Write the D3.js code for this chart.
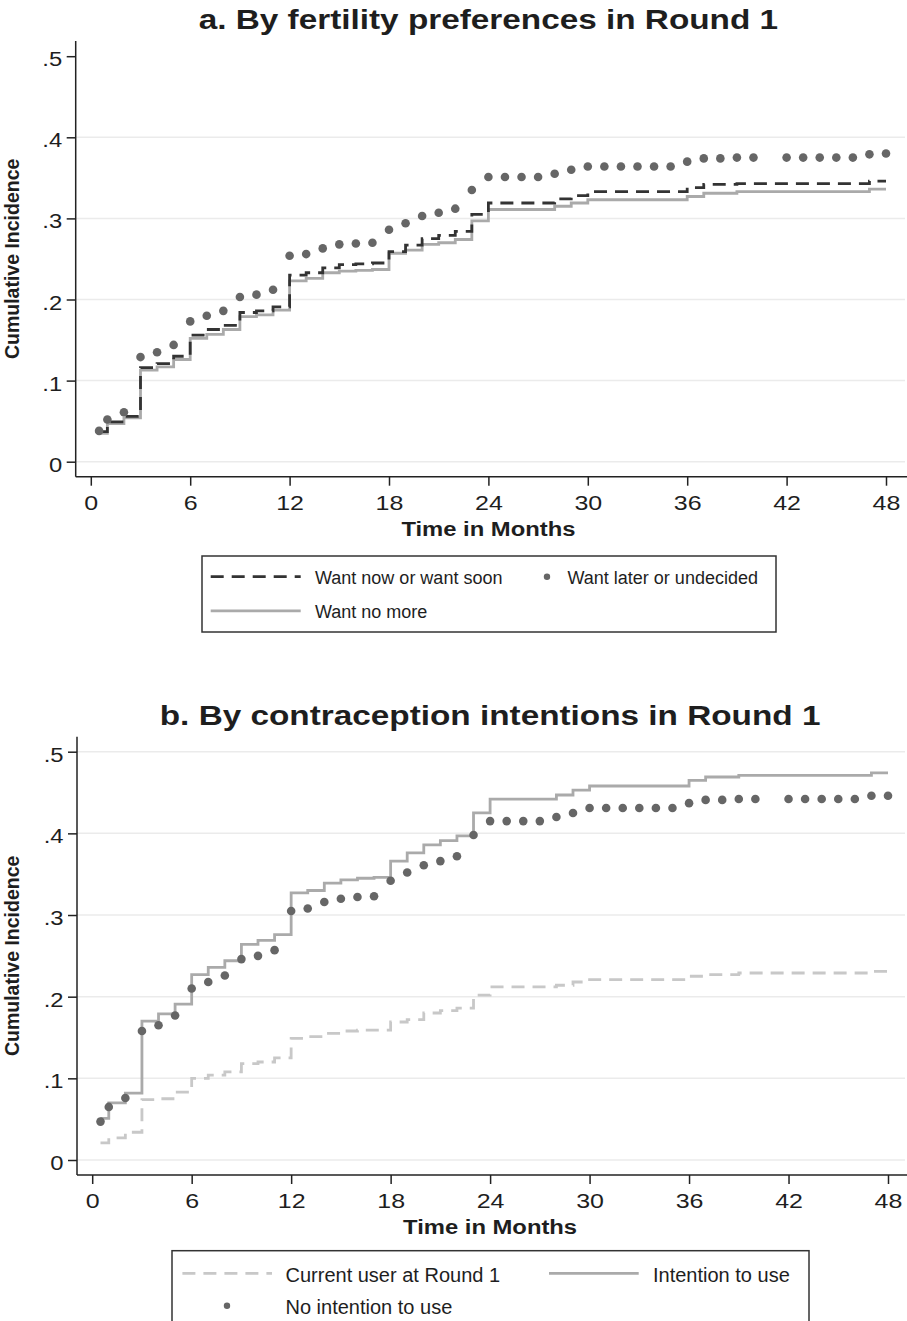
<!DOCTYPE html>
<html>
<head>
<meta charset="utf-8">
<script src="https://cdn.jsdelivr.net/npm/d3@7"></script>
<style>
  body { margin: 0; background: #fff; }
  text { font-family: "Liberation Sans", Arial, Helvetica, sans-serif; fill: #1e1e1e; }
</style>
</head>
<body>
<svg id="chart" width="907" height="1321"></svg>
<script>
// months at which the cumulative incidence is reported
var months = [0.5, 1, 2, 3, 4, 5, 6, 7, 8, 9,
  10, 11, 12, 13, 14, 15, 16, 17, 18, 19,
  20, 21, 22, 23, 24, 25, 26, 27, 28, 29,
  30, 31, 32, 33, 34, 35, 36, 37, 38, 39,
  40, 41, 42, 43, 44, 45, 46, 47, 48];

var xTicks = [0, 6, 12, 18, 24, 30, 36, 42, 48];
var yTicks = [0, .1, .2, .3, .4, .5];
var yTickLabels = ["0", ".1", ".2", ".3", ".4", ".5"];

// panel a - fertility preferences
var wantSoon = [.037, .049, .056, .116, .121, .130, .156, .163, .168, .184,
  .186, .191, .230, .233, .239, .243, .244, .245, .259, .267,
  .275, .279, .284, .305, .319, .319, .319, .319, .324, .328,
  .333, .333, .333, .333, .333, .333, .338, .342, .342, .343,
  .343, .343, .343, .343, .343, .343, .343, .346, .346];
var wantNoMore = [.035, .047, .054, .113, .117, .126, .152, .157, .163, .179,
  .181, .187, .223, .226, .233, .235, .236, .237, .257, .261,
  .268, .270, .274, .297, .311, .311, .311, .311, .315, .319,
  .323, .323, .323, .323, .323, .323, .327, .331, .331, .333,
  .333, .333, .333, .333, .333, .333, .333, .336, .336];
var wantLater = [.038, .052, .061, .129, .135, .144, .173, .180, .186, .203,
  .206, .212, .254, .256, .263, .268, .269, .270, .286, .294,
  .303, .307, .312, .335, .351, .351, .351, .351, .355, .360,
  .364, .364, .364, .364, .364, .364, .370, .374, .374, .375,
  .375, null, .375, .375, .375, .375, .375, .379, .380];

// panel b - contraception intentions
var currentUser = [.021, .027, .034, .074, .075, .083, .100, .104, .108, .118,
  .120, .125, .149, .151, .155, .158, .159, .159, .169, .172,
  .180, .183, .186, .202, .212, .212, .212, .212, .214, .218,
  .221, .221, .221, .221, .221, .221, .225, .227, .227, .229,
  .229, .229, .229, .229, .229, .229, .229, .231, .231];
var intention = [.051, .070, .082, .170, .179, .191, .227, .236, .244, .264,
  .269, .276, .327, .330, .339, .343, .345, .346, .366, .376,
  .386, .391, .397, .425, .442, .442, .442, .442, .447, .453,
  .458, .458, .458, .458, .458, .458, .465, .469, .469, .471,
  .471, .471, .471, .471, .471, .471, .471, .474, .474];
var noIntention = [.047, .065, .076, .158, .165, .177, .210, .218, .226, .246,
  .250, .257, .305, .308, .316, .320, .322, .323, .342, .352,
  .361, .366, .372, .398, .415, .415, .415, .415, .420, .425,
  .431, .431, .431, .431, .431, .431, .437, .441, .441, .442,
  .442, null, .442, .442, .442, .442, .442, .446, .446];

var SX = 1.19; // the picture is a bit wider than its text

var svg = d3.select("#chart");
svg.append("rect").attr("width", 907).attr("height", 1321).attr("fill", "#fff");

var styles = {
  darkDash: {stroke: "#333", dash: "13,8"},
  lightDash: {stroke: "#c8c8c8", dash: "13,8"},
  gray: {stroke: "#aaa", dash: null},
  dots: {fill: "#666"}
};

function label(g, x, y, str, size, weight, anchor, sx, rot) {
  return g.append("text")
    .attr("transform", "translate(" + x + "," + y + ") scale(" + sx + ",1)" + (rot ? " rotate(-90)" : ""))
    .attr("text-anchor", anchor)
    .style("font-size", size + "px")
    .style("font-weight", weight)
    .text(str);
}

function drawPanel(p) {
  var g = svg.append("g");
  var x = d3.scaleLinear().domain([0, 48]).range([p.x0, p.x48]);
  var y = d3.scaleLinear().domain([0, .5]).range([p.y0, p.y5]);

  // grid
  g.selectAll("line.grid").data(p.grid).join("line")
    .attr("class", "grid")
    .attr("x1", p.left).attr("x2", 905)
    .attr("y1", d => y(d)).attr("y2", d => y(d))
    .attr("stroke", "#ebebeb").attr("stroke-width", 1.5);

  // series
  p.series.forEach(function(s) {
    var pts = months.map((m, i) => ({m: m, v: s.values[i]})).filter(d => d.v != null);
    var st = styles[s.style];
    if (s.style == "dots") {
      g.append("g").selectAll("circle").data(pts).join("circle")
        .attr("cx", d => x(d.m)).attr("cy", d => y(d.v))
        .attr("r", 4.3).attr("fill", st.fill);
    } else {
      var line = d3.line().curve(d3.curveStepAfter).x(d => x(d.m)).y(d => y(d.v));
      g.append("path").attr("d", line(pts))
        .attr("fill", "none").attr("stroke", st.stroke).attr("stroke-width", 2.8)
        .attr("stroke-dasharray", st.dash);
    }
  });

  // axis lines
  g.append("line").attr("x1", p.left).attr("x2", p.left).attr("y1", p.axisTop).attr("y2", p.axisBottom)
    .attr("stroke", "#222").attr("stroke-width", 1.5);
  g.append("line").attr("x1", p.left).attr("x2", 907).attr("y1", p.axisBottom).attr("y2", p.axisBottom)
    .attr("stroke", "#222").attr("stroke-width", 1.5);

  var xa = d3.axisBottom(x).tickValues(xTicks).tickSize(9).tickSizeOuter(0).tickFormat(d => d);
  g.append("g").attr("transform", "translate(0," + p.axisBottom + ")").call(xa)
    .call(function(a) {
      a.attr("font-size", null).attr("font-family", null);
      a.select(".domain").remove();
      a.selectAll("line").attr("stroke", "#222").attr("stroke-width", 1.5);
      a.selectAll("text").attr("y", null).attr("dy", null).attr("fill", null)
        .style("font-size", "21px")
        .attr("transform", "translate(0,33.3) scale(" + SX + ",1)");
    });

  var ya = d3.axisLeft(y).tickValues(yTicks).tickSize(9).tickSizeOuter(0)
    .tickFormat((d, i) => yTickLabels[i]);
  g.append("g").attr("transform", "translate(" + p.left + ",0)").call(ya)
    .call(function(a) {
      a.attr("font-size", null).attr("font-family", null);
      a.select(".domain").remove();
      a.selectAll("line").attr("stroke", "#222").attr("stroke-width", 1.5);
      a.selectAll("text").attr("x", null).attr("dy", null).attr("fill", null)
        .style("font-size", "20px")
        .attr("transform", "translate(-13.5,9.5) scale(" + SX + ",1)");
    });

  // titles
  label(g, x(24), p.titleY, p.title, 28, "bold", "middle", SX);
  label(g, x(24), p.axisBottom + 59.3, "Time in Months", 20, "bold", "middle", SX);
  label(g, 18.5, (p.axisTop + p.axisBottom) / 2, "Cumulative Incidence", 19.5, "bold", "middle", 1.08, true);

  // legend
  var L = p.legend;
  g.append("rect").attr("x", L.box[0]).attr("y", L.box[1]).attr("width", L.box[2]).attr("height", L.box[3])
    .attr("fill", "none").attr("stroke", "#333").attr("stroke-width", 1.5);
  L.items.forEach(function(it) {
    var st = styles[it.style];
    if (it.style == "dots") {
      g.append("circle").attr("cx", it.key[0]).attr("cy", it.y).attr("r", 3.2).attr("fill", st.fill);
    } else {
      g.append("line").attr("x1", it.key[0]).attr("x2", it.key[1]).attr("y1", it.y).attr("y2", it.y)
        .attr("stroke", st.stroke).attr("stroke-width", 2.8).attr("stroke-dasharray", st.dash);
    }
    label(g, it.tx, it.y + L.base, it.text, L.size, "normal", "start", 1);
  });
}

drawPanel({
  title: "a. By fertility preferences in Round 1",
  titleY: 29.3,
  left: 75.7, x0: 90.8, x48: 886, y0: 461.7, y5: 56.2,
  axisTop: 41, axisBottom: 476.7,
  grid: [0, .1, .2, .3, .4],
  series: [
    {values: wantNoMore, style: "gray"},
    {values: wantSoon, style: "darkDash"},
    {values: wantLater, style: "dots"}
  ],
  legend: {
    box: [202, 556, 574, 76], size: 18, base: 7.3,
    items: [
      {style: "darkDash", key: [210.7, 300.7], y: 576.7, tx: 315, text: "Want now or want soon"},
      {style: "dots", key: [547], y: 576.7, tx: 567.5, text: "Want later or undecided"},
      {style: "gray", key: [210.7, 300.7], y: 610.9, tx: 315, text: "Want no more"}
    ]
  }
});

drawPanel({
  title: "b. By contraception intentions in Round 1",
  titleY: 725,
  left: 77, x0: 92.2, x48: 888, y0: 1160, y5: 751.7,
  axisTop: 736.7, axisBottom: 1175,
  grid: [0, .1, .2, .3, .4, .5],
  series: [
    {values: currentUser, style: "lightDash"},
    {values: intention, style: "gray"},
    {values: noIntention, style: "dots"}
  ],
  legend: {
    box: [172, 1250.7, 637, 110], size: 20, base: 8.2,
    items: [
      {style: "lightDash", key: [182.4, 272], y: 1273.3, tx: 285.5, text: "Current user at Round 1"},
      {style: "gray", key: [549, 638.7], y: 1273.3, tx: 653, text: "Intention to use"},
      {style: "dots", key: [227], y: 1305.7, tx: 285.5, text: "No intention to use"}
    ]
  }
});
</script>
</body>
</html>
